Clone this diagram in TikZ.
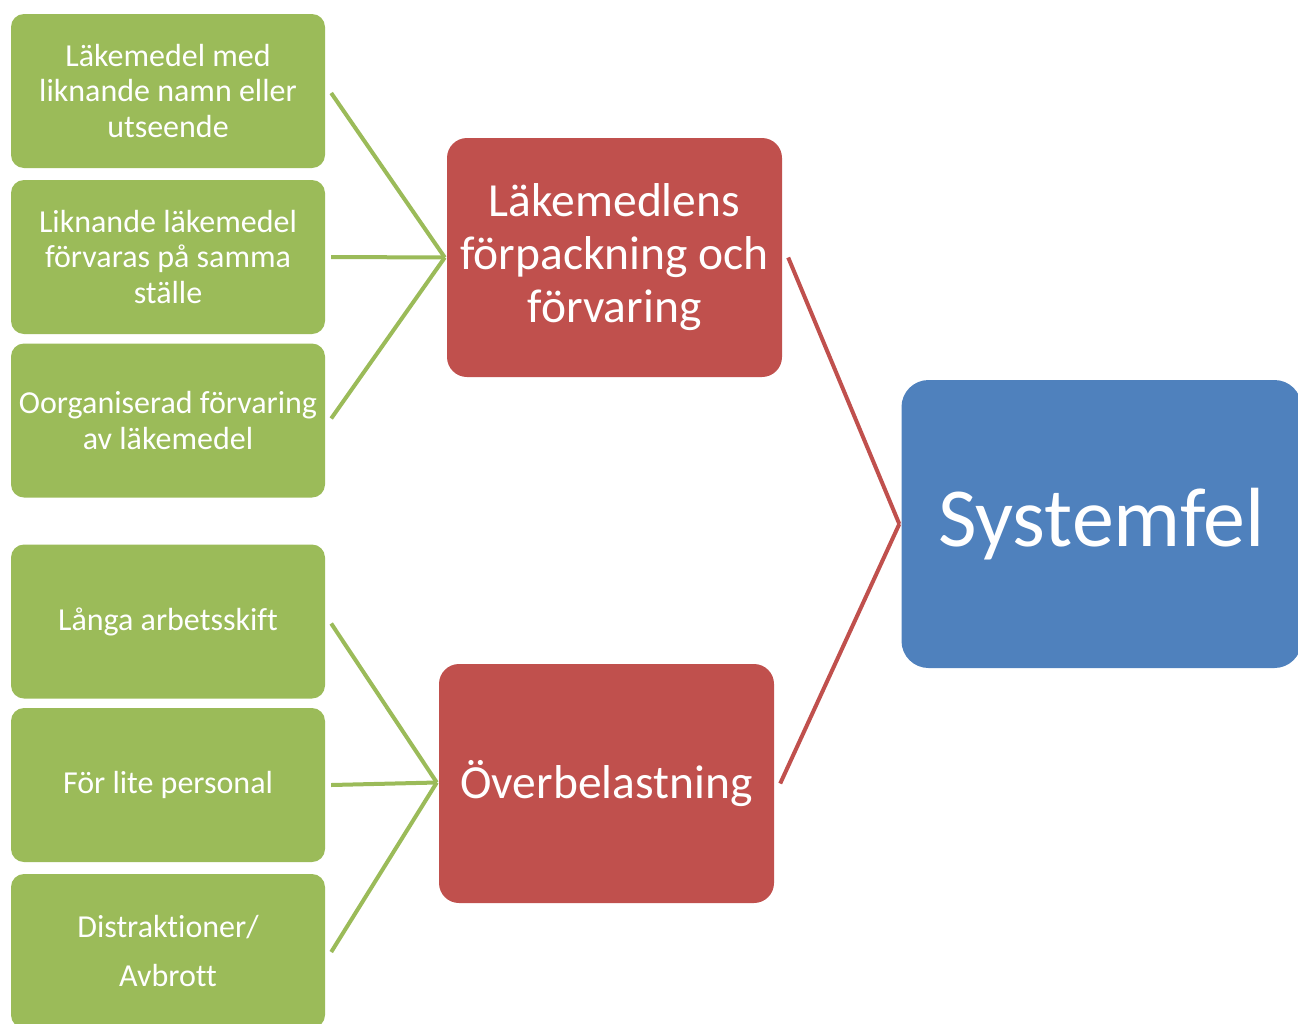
\documentclass[tikz,border=0pt]{standalone}
\usepackage{fontspec}
\setmainfont[Ligatures={NoCommon}]{Carlito}
\definecolor{ogreen}{HTML}{9BBB59}
\definecolor{ored}{HTML}{C0504D}
\definecolor{oblue}{HTML}{4F81BD}
\tikzset{
  gbox/.style={rectangle, rounded corners=13pt, fill=ogreen, draw=none, text=white,
    minimum width=314pt, minimum height=154pt, align=center, inner sep=0pt,
    font=\fontsize{32}{35.5}\selectfont},
  rbox/.style={rectangle, rounded corners=20pt, fill=ored, draw=none, text=white,
    minimum width=335pt, minimum height=239pt, align=center, inner sep=0pt,
    font=\fontsize{47.5}{53}\selectfont},
  bbox/.style={rectangle, rounded corners=27pt, fill=oblue, draw=none, text=white,
    minimum width=400pt, minimum height=288pt, align=center, inner sep=0pt,
    font=\fontsize{84}{90}\selectfont},
  gline/.style={draw=ogreen, line width=4pt},
  rline/.style={draw=ored, line width=4pt},
}
\begin{document}
\begin{tikzpicture}[x=1pt,y=-1pt]
\useasboundingbox (0,0) rectangle (1298,1023);
\clip (0,0) rectangle (1298,1023);
\node[gbox] (g1) at (168,91) {Läkemedel med\\liknande namn eller\\utseende};
\node[gbox] (g2) at (168,257) {Liknande läkemedel\\förvaras på samma\\ställe};
\node[gbox] (g3) at (168,420.5) {Oorganiserad förvaring\\av läkemedel};
\node[gbox] (g4) at (168,621.5) {Långa arbetsskift};
\node[gbox] (g5) at (168,785) {För lite personal};
\node[gbox] (g6) at (168,951) {Distraktioner/\\[13pt]Avbrott};
\node[rbox] (r1) at (614.5,257.5) {Läkemedlens\\förpackning och\\förvaring};
\node[rbox] (r2) at (606.5,783.5) {Överbelastning};
\node[bbox] (b) at (1101.5,524) {Systemfel};
\draw[gline] ([xshift=6pt,yshift=-2pt]g1.east) -- ([xshift=-2pt]r1.west);
\draw[gline] ([xshift=6pt]g2.east) -- ([xshift=-2pt]r1.west);
\draw[gline] ([xshift=6pt,yshift=2pt]g3.east) -- ([xshift=-2pt]r1.west);
\draw[gline] ([xshift=6pt,yshift=-2pt]g4.east) -- ([xshift=-2pt,yshift=1pt]r2.west);
\draw[gline] ([xshift=6pt]g5.east) -- ([xshift=-2pt,yshift=1pt]r2.west);
\draw[gline] ([xshift=6pt,yshift=-1pt]g6.east) -- ([xshift=-2pt,yshift=1pt]r2.west);
\draw[rline] ([xshift=6pt]r1.east) -- ([xshift=-2pt]b.west);
\draw[rline] ([xshift=6pt]r2.east) -- ([xshift=-2pt]b.west);
\end{tikzpicture}
\end{document}
